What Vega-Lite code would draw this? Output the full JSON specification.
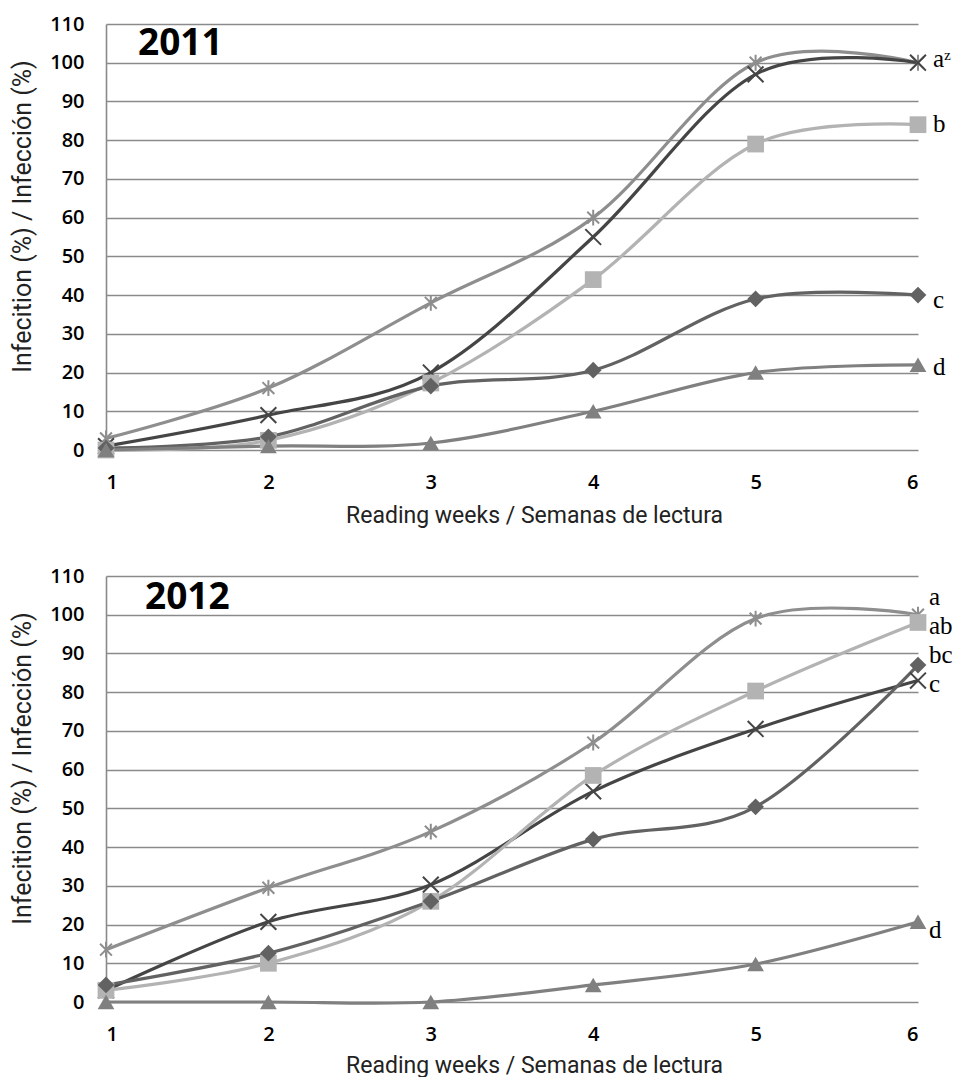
{
  "$schema": "https://vega.github.io/schema/vega-lite/v6.json",
  "background": "white",
  "padding": {"left": 10, "top": 14, "right": 0, "bottom": 0},
  "spacing": 39,
  "datasets": {
    "series": [
      {"year": 2011, "series": "star", "week": 1, "value": 3},
      {"year": 2011, "series": "star", "week": 2, "value": 16},
      {"year": 2011, "series": "star", "week": 3, "value": 38},
      {"year": 2011, "series": "star", "week": 4, "value": 60},
      {"year": 2011, "series": "star", "week": 5, "value": 100},
      {"year": 2011, "series": "star", "week": 6, "value": 100},
      {"year": 2011, "series": "x", "week": 1, "value": 1},
      {"year": 2011, "series": "x", "week": 2, "value": 9},
      {"year": 2011, "series": "x", "week": 3, "value": 20},
      {"year": 2011, "series": "x", "week": 4, "value": 55},
      {"year": 2011, "series": "x", "week": 5, "value": 97},
      {"year": 2011, "series": "x", "week": 6, "value": 100},
      {"year": 2011, "series": "square", "week": 1, "value": 0},
      {"year": 2011, "series": "square", "week": 2, "value": 2.5},
      {"year": 2011, "series": "square", "week": 3, "value": 17.3},
      {"year": 2011, "series": "square", "week": 4, "value": 44},
      {"year": 2011, "series": "square", "week": 5, "value": 79},
      {"year": 2011, "series": "square", "week": 6, "value": 84},
      {"year": 2011, "series": "diamond", "week": 1, "value": 0.5},
      {"year": 2011, "series": "diamond", "week": 2, "value": 3.4},
      {"year": 2011, "series": "diamond", "week": 3, "value": 16.5},
      {"year": 2011, "series": "diamond", "week": 4, "value": 20.6},
      {"year": 2011, "series": "diamond", "week": 5, "value": 39},
      {"year": 2011, "series": "diamond", "week": 6, "value": 40},
      {"year": 2011, "series": "triangle", "week": 1, "value": 0},
      {"year": 2011, "series": "triangle", "week": 2, "value": 1},
      {"year": 2011, "series": "triangle", "week": 3, "value": 1.8},
      {"year": 2011, "series": "triangle", "week": 4, "value": 10},
      {"year": 2011, "series": "triangle", "week": 5, "value": 20},
      {"year": 2011, "series": "triangle", "week": 6, "value": 22},
      {"year": 2012, "series": "star", "week": 1, "value": 13.5},
      {"year": 2012, "series": "star", "week": 2, "value": 29.5},
      {"year": 2012, "series": "star", "week": 3, "value": 44},
      {"year": 2012, "series": "star", "week": 4, "value": 67},
      {"year": 2012, "series": "star", "week": 5, "value": 99},
      {"year": 2012, "series": "star", "week": 6, "value": 100},
      {"year": 2012, "series": "x", "week": 1, "value": 3},
      {"year": 2012, "series": "x", "week": 2, "value": 20.7},
      {"year": 2012, "series": "x", "week": 3, "value": 30.3},
      {"year": 2012, "series": "x", "week": 4, "value": 54.4},
      {"year": 2012, "series": "x", "week": 5, "value": 70.5},
      {"year": 2012, "series": "x", "week": 6, "value": 83},
      {"year": 2012, "series": "square", "week": 1, "value": 3},
      {"year": 2012, "series": "square", "week": 2, "value": 10},
      {"year": 2012, "series": "square", "week": 3, "value": 26},
      {"year": 2012, "series": "square", "week": 4, "value": 58.5},
      {"year": 2012, "series": "square", "week": 5, "value": 80.3},
      {"year": 2012, "series": "square", "week": 6, "value": 98},
      {"year": 2012, "series": "diamond", "week": 1, "value": 4.4},
      {"year": 2012, "series": "diamond", "week": 2, "value": 12.6},
      {"year": 2012, "series": "diamond", "week": 3, "value": 26},
      {"year": 2012, "series": "diamond", "week": 4, "value": 42},
      {"year": 2012, "series": "diamond", "week": 5, "value": 50.4},
      {"year": 2012, "series": "diamond", "week": 6, "value": 87},
      {"year": 2012, "series": "triangle", "week": 1, "value": 0},
      {"year": 2012, "series": "triangle", "week": 2, "value": 0},
      {"year": 2012, "series": "triangle", "week": 3, "value": 0},
      {"year": 2012, "series": "triangle", "week": 4, "value": 4.4},
      {"year": 2012, "series": "triangle", "week": 5, "value": 9.8},
      {"year": 2012, "series": "triangle", "week": 6, "value": 20.7}
    ],
    "labels": [
      {"year": 2011, "label": "aᶻ", "week": 6, "value": 101},
      {"year": 2011, "label": "b", "week": 6, "value": 84.3},
      {"year": 2011, "label": "c", "week": 6, "value": 38.7},
      {"year": 2011, "label": "d", "week": 6, "value": 21.4},
      {"year": 2012, "label": "a", "week": 6, "value": 104.5},
      {"year": 2012, "label": "ab", "week": 6, "value": 97},
      {"year": 2012, "label": "bc", "week": 6, "value": 89.5},
      {"year": 2012, "label": "c", "week": 6, "value": 82},
      {"year": 2012, "label": "d", "week": 6, "value": 18.6}
    ]
  },
  "config": {
    "view": {"stroke": null},
    "axis": {
      "labelFont": "Open Sans",
      "labelFontSize": 20,
      "labelFontWeight": 600,
      "labelColor": "#000000",
      "labelOverlap": false,
      "titleFont": "Liberation Sans Narrow, Roboto",
      "titleFontSize": 25,
      "titleFontWeight": "normal",
      "titleColor": "#222222",
      "ticks": false,
      "gridColor": "#8a8a8a",
      "gridWidth": 1.6,
      "gridOpacity": 1
    },
    "title": {"font": "Open Sans", "fontSize": 37, "fontWeight": "bold", "color": "#000000", "anchor": "start", "frame": "group", "baseline": "alphabetic"}
  },
  "vconcat": [
    {
      "width": 812,
      "height": 426,
      "title": {"text": "2011", "dx": 32, "offset": -49},
      "encoding": {
        "x": {"field": "week", "type": "quantitative", "scale": {"domain": [1, 6], "nice": false},
          "axis": {"values": [1, 2, 3, 4, 5, 6], "format": "d", "grid": false, "domain": false, "labelPadding": 22, "titlePadding": 12, "titleFontSize": 23, "titleX": 428, "title": "Reading weeks / Semanas de lectura"}},
        "y": {"field": "value", "type": "quantitative", "scale": {"domain": [0, 110], "nice": false},
          "axis": {"values": [0, 10, 20, 30, 40, 50, 60, 70, 80, 90, 100, 110], "grid": true, "domain": true, "domainColor": "#8a8a8a", "domainWidth": 1.6, "labelPadding": 22, "titlePadding": 14, "titleY": 192, "title": "Infecition (%) / Infección (%)"}}
      },
      "layer": [
        {
          "data": {"name": "series"},
          "transform": [{"filter": "datum.year == 2011"}],
          "mark": {"type": "line", "interpolate": "cardinal", "strokeWidth": 3.2},
          "encoding": {
            "color": {"field": "series", "type": "nominal", "legend": null,
              "scale": {"domain": ["star", "x", "square", "diamond", "triangle"], "range": ["#8e8e8e", "#454545", "#b3b3b3", "#626262", "#808080"]}},
            "order": {"field": "week"}
          }
        },
        {
          "data": {"name": "series"},
          "transform": [{"filter": "datum.year == 2011 && (datum.series == 'star' || datum.series == 'x')"}],
          "mark": {"type": "point", "filled": false, "strokeWidth": 2, "opacity": 1},
          "encoding": {
            "color": {"field": "series", "type": "nominal", "legend": null},
            "shape": {"field": "series", "type": "nominal", "legend": null,
              "scale": {"domain": ["star", "x", "square", "diamond", "triangle"], "range": ["M-0.75,-0.75L0.75,0.75M-0.75,0.75L0.75,-0.75M0,-1L0,1", "M-1,-1L1,1M-1,1L1,-1", "square", "diamond", "triangle-up"]}},
            "size": {"value": 250}
          }
        },
        {
          "data": {"name": "series"},
          "transform": [{"filter": "datum.year == 2011 && datum.series != 'star' && datum.series != 'x'"}],
          "mark": {"type": "point", "filled": true, "opacity": 1},
          "encoding": {
            "color": {"field": "series", "type": "nominal", "legend": null},
            "shape": {"field": "series", "type": "nominal", "legend": null},
            "size": {"value": 280}
          }
        },
        {
          "data": {"name": "labels"},
          "transform": [{"filter": "datum.year == 2011"}],
          "mark": {"type": "text", "font": "Liberation Serif", "fontSize": 25, "align": "left", "baseline": "middle", "dx": 15, "color": "#000000"},
          "encoding": {
            "text": {"field": "label"}
          }
        }
      ]
    },
    {
      "width": 812,
      "height": 426,
      "title": {"text": "2012", "dx": 39, "offset": -51},
      "encoding": {
        "x": {"field": "week", "type": "quantitative", "scale": {"domain": [1, 6], "nice": false},
          "axis": {"values": [1, 2, 3, 4, 5, 6], "format": "d", "grid": false, "domain": false, "labelPadding": 22, "titlePadding": 10, "titleFontSize": 23, "titleX": 428, "title": "Reading weeks / Semanas de lectura"}},
        "y": {"field": "value", "type": "quantitative", "scale": {"domain": [0, 110], "nice": false},
          "axis": {"values": [0, 10, 20, 30, 40, 50, 60, 70, 80, 90, 100, 110], "grid": true, "domain": true, "domainColor": "#8a8a8a", "domainWidth": 1.6, "labelPadding": 22, "titlePadding": 14, "titleY": 192, "title": "Infecition (%) / Infección (%)"}}
      },
      "layer": [
        {
          "data": {"name": "series"},
          "transform": [{"filter": "datum.year == 2012"}],
          "mark": {"type": "line", "interpolate": "cardinal", "strokeWidth": 3.2},
          "encoding": {
            "color": {"field": "series", "type": "nominal", "legend": null,
              "scale": {"domain": ["star", "x", "square", "diamond", "triangle"], "range": ["#8e8e8e", "#454545", "#b3b3b3", "#626262", "#808080"]}},
            "order": {"field": "week"}
          }
        },
        {
          "data": {"name": "series"},
          "transform": [{"filter": "datum.year == 2012 && (datum.series == 'star' || datum.series == 'x')"}],
          "mark": {"type": "point", "filled": false, "strokeWidth": 2, "opacity": 1},
          "encoding": {
            "color": {"field": "series", "type": "nominal", "legend": null},
            "shape": {"field": "series", "type": "nominal", "legend": null,
              "scale": {"domain": ["star", "x", "square", "diamond", "triangle"], "range": ["M-0.75,-0.75L0.75,0.75M-0.75,0.75L0.75,-0.75M0,-1L0,1", "M-1,-1L1,1M-1,1L1,-1", "square", "diamond", "triangle-up"]}},
            "size": {"value": 250}
          }
        },
        {
          "data": {"name": "series"},
          "transform": [{"filter": "datum.year == 2012 && datum.series != 'star' && datum.series != 'x'"}],
          "mark": {"type": "point", "filled": true, "opacity": 1},
          "encoding": {
            "color": {"field": "series", "type": "nominal", "legend": null},
            "shape": {"field": "series", "type": "nominal", "legend": null},
            "size": {"value": 280}
          }
        },
        {
          "data": {"name": "labels"},
          "transform": [{"filter": "datum.year == 2012"}],
          "mark": {"type": "text", "font": "Liberation Serif", "fontSize": 25, "align": "left", "baseline": "middle", "dx": 11, "color": "#000000"},
          "encoding": {
            "text": {"field": "label"}
          }
        }
      ]
    }
  ]
}
